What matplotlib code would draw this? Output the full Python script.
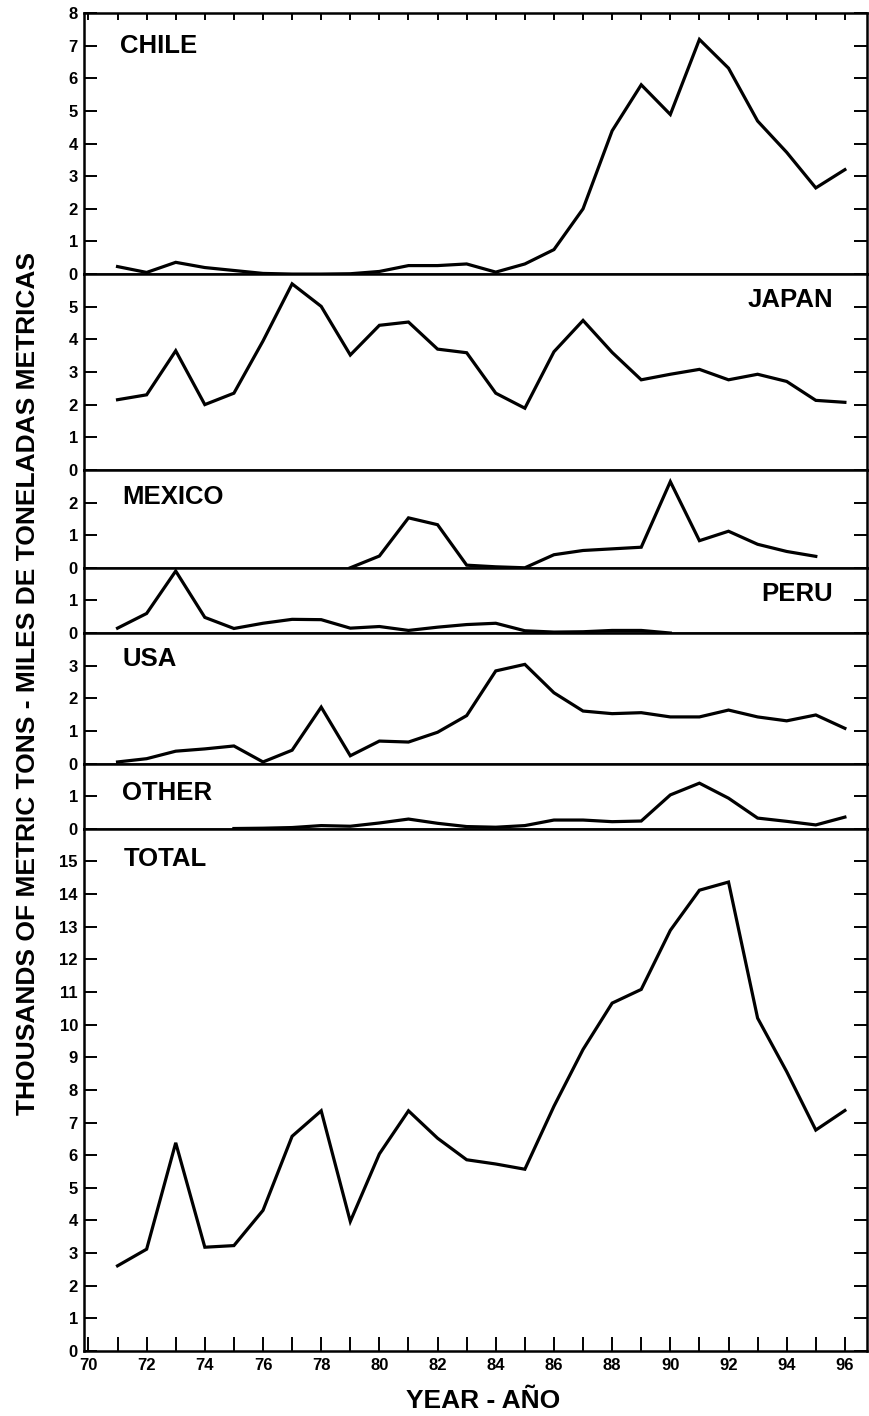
import numpy as np
import matplotlib
matplotlib.use("Agg")
import matplotlib.pyplot as plt

nan = np.nan
years = list(range(71, 97))
chile = [0.23, 0.05, 0.36, 0.2, 0.11, 0.02, 0.0, 0.0, 0.01, 0.08, 0.26, 0.26, 0.31,
         0.06, 0.31, 0.75, 2.0, 4.39, 5.8, 4.89, 7.19, 6.31, 4.69, 3.73, 2.64, 3.2]
japan = [2.15, 2.3, 3.65, 2.0, 2.35, 3.95, 5.7, 5.01, 3.52, 4.43, 4.53, 3.7, 3.59,
         2.35, 1.89, 3.62, 4.58, 3.6, 2.76, 2.93, 3.08, 2.76, 2.93, 2.71, 2.13, 2.07]
mexico = [nan] * 8 + [0.0, 0.36, 1.53, 1.32, 0.08, 0.03, 0.0, 0.4, 0.53, 0.58, 0.63,
                      2.64, 0.83, 1.12, 0.72, 0.5, 0.35, nan]
peru = [0.15, 0.6, 1.9, 0.48, 0.14, 0.3, 0.42, 0.41, 0.15, 0.2, 0.08, 0.18, 0.26,
        0.3, 0.07, 0.03, 0.04, 0.08, 0.08, 0.0] + [nan] * 6
usa = [0.05, 0.15, 0.38, 0.45, 0.54, 0.05, 0.41, 1.73, 0.24, 0.69, 0.66, 0.96, 1.47,
       2.84, 3.04, 2.17, 1.61, 1.53, 1.56, 1.43, 1.43, 1.64, 1.43, 1.31, 1.49, 1.08]
other = [nan] * 4 + [0.01, 0.02, 0.04, 0.1, 0.08, 0.18, 0.3, 0.17, 0.07, 0.05, 0.1,
                     0.27, 0.27, 0.22, 0.24, 1.04, 1.40, 0.94, 0.33, 0.23, 0.12, 0.36]
total = [2.61, 3.12, 6.38, 3.18, 3.23, 4.31, 6.58, 7.36, 3.97, 6.04, 7.36, 6.52, 5.86,
         5.73, 5.57, 7.5, 9.24, 10.66, 11.08, 12.89, 14.12, 14.37, 10.2, 8.56, 6.77, 7.37]

panel_names = ["CHILE", "JAPAN", "MEXICO", "PERU", "USA", "OTHER", "TOTAL"]
panel_data = [chile, japan, mexico, peru, usa, other, total]
panel_tops = [8, 6, 3, 2, 4, 2, 16]
xtick_years = list(range(70, 97))

plt.rcParams['font.family'] = ['Liberation Sans', 'DejaVu Sans']
plt.rcParams['font.weight'] = 'bold'

W, H = 869, 1416
fig = plt.figure(figsize=(W / 100, H / 100), dpi=100)
gs = fig.add_gridspec(len(panel_names), 1, height_ratios=panel_tops, hspace=0,
                      left=83.5 / W, right=867 / W, top=1 - 13 / H, bottom=1 - 1351 / H)
axes = []
for i in range(len(panel_names)):
    ax = fig.add_subplot(gs[i, 0], sharex=axes[0] if axes else None)
    axes.append(ax)

# label placement (data coords): (x, y, ha)
label_pos = [(71.09, 6.78, 'left'), (95.59, 4.99, 'right'), (71.16, 1.96, 'left'),
             (95.59, 0.98, 'right'), (71.16, 3.0, 'left'), (71.16, 0.89, 'left'),
             (71.2, 14.86, 'left')]

for i, ax in enumerate(axes):
    ax.plot(years, panel_data[i], color='black', lw=2.3, solid_joinstyle='miter')
    top = panel_tops[i]
    ax.set_ylim(0, top)
    if i == 0:
        ax.set_yticks(range(0, top + 1))
    else:
        ax.set_yticks(range(0, top))
    ax.tick_params(axis='y', direction='in', length=9.5, width=1.4, left=True, right=True,
                   labelleft=True, labelsize=12, pad=4)
    ax.tick_params(axis='x', bottom=False, top=False, labelbottom=False)
    for s in ax.spines.values():
        s.set_linewidth(1.8)
    x, y, ha = label_pos[i]
    ax.text(x, y, panel_names[i], ha=ha, va='baseline', fontsize=18.5, fontweight='bold')

axes[0].set_xlim(69.83, 96.76)
axes[-1].set_xticks(xtick_years)
axes[-1].set_xticklabels([str(y) if y % 2 == 0 else '' for y in xtick_years])
axes[0].tick_params(axis='x', top=True, direction='in', length=5, width=1.4)
axes[-1].tick_params(axis='x', bottom=True, labelbottom=True, direction='in', length=10,
                     width=1.4, labelsize=12, pad=5)

fig.text(0.032, 0.517, "THOUSANDS OF METRIC TONS - MILES DE TONELADAS METRICAS",
         rotation=90, ha='center', va='center', fontsize=19, fontweight='bold')
fig.text(483 / W, 1 - 1408 / H, "YEAR - AÑO", ha='center', va='baseline',
         fontsize=19, fontweight='bold')

fig.savefig("out.png", dpi=100)
